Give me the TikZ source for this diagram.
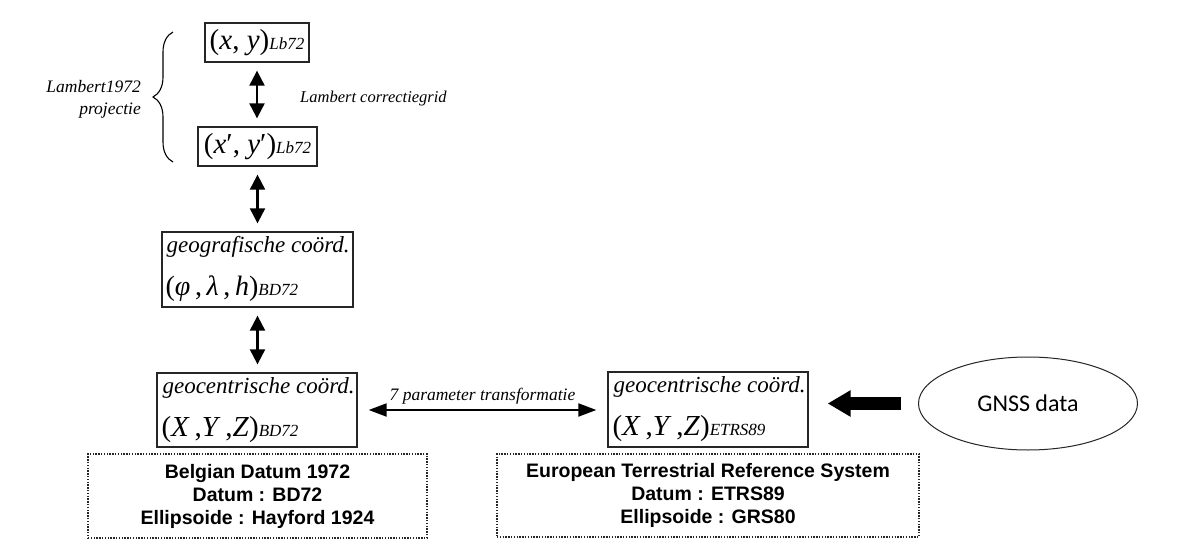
\documentclass[tikz,border=0pt]{standalone}
\usepackage{fontspec}
\setmainfont{Liberation Serif}
\setsansfont{Liberation Sans}
\newfontfamily\gnssfont{Carlito}
\usetikzlibrary{arrows.meta,decorations.pathreplacing,shapes.geometric,calc}

\newcommand\sz[1]{\fontsize{#1}{#1}\selectfont}
\newcommand\subsc[1]{{\sz{17}\itshape #1}}
\newcommand\apos{′}

\begin{document}
\begin{tikzpicture}[x=1pt,y=-1pt,
  coordbox/.style={draw=black!85, line width=1.3pt, inner sep=0pt},
  infobox/.style={draw=black!85, line width=1.4pt, dash pattern=on 1.4pt off 1.4pt,
    inner sep=0pt, minimum height=84pt, align=center,
    font=\sffamily\bfseries\fontsize{19.5}{23}\selectfont},
  txt/.style={inner sep=0pt},
  dblarrow/.style={{Triangle[length=15pt,width=15pt]}-{Triangle[length=15pt,width=15pt]},
    line width=2.1pt, shorten <=8pt, shorten >=8pt},
  paramarrow/.style={{Triangle[length=18pt,width=13pt]}-{Triangle[length=18pt,width=13pt]},
    line width=2pt, shorten <=11pt, shorten >=11pt},
  bigarrow/.style={-{Triangle[length=23pt,width=25pt]}, line width=13pt,
    shorten <=17pt, shorten >=19pt}
]
\useasboundingbox (0,0) rectangle (1183,548);
\fill[white] (0,0) rectangle (1183,548);

% Lambert coordinates
\node[coordbox, minimum width=104pt, minimum height=39pt] (lb) at (257,42.5)
  {\sz{29}(\textit{x}, \textit{y})\subsc{Lb72}};
\node[coordbox, minimum width=119pt, minimum height=39pt] (lbc) at (257.5,146.5)
  {\sz{29}(\textit{x}\apos, \textit{y}\apos)\subsc{Lb72}};

% geographic coordinates
\node[coordbox, minimum width=191pt, minimum height=75pt] (geo) at (257.5,269.5) {};
\node[txt, anchor=base west] (geoT) at ($(geo.north west)+(5,21)$)
  {\sz{23}\itshape geografische coörd.};
\node[txt, anchor=base west] (geoV) at ($(geo.north west)+(4,64)$)
  {\sz{28}(\textit{φ}\,,\,\textit{λ}\,,\,\textit{h})\subsc{BD72}};

% geocentric coordinates BD72
\node[coordbox, minimum width=200pt, minimum height=74pt] (geoc) at (257,410) {};
\node[txt, anchor=base west] (geocT) at ($(geoc.north west)+(6,21)$)
  {\sz{23}\itshape geocentrische coörd.};
\node[txt, anchor=base west] (geocV) at ($(geoc.north west)+(5,64)$)
  {\sz{29}(\textit{X}\,,\textit{Y}\,,\textit{Z})\subsc{BD72}};

% geocentric coordinates ETRS89
\node[coordbox, minimum width=200pt, minimum height=75pt] (etrs) at (708,409.5) {};
\node[txt, anchor=base west] (etrsT) at ($(etrs.north west)+(6,21)$)
  {\sz{23}\itshape geocentrische coörd.};
\node[txt, anchor=base west] (etrsV) at ($(etrs.north west)+(5,64)$)
  {\sz{29}(\textit{X}\,,\textit{Y}\,,\textit{Z})\subsc{ETRS89}};

% GNSS source
\node[draw=black!85, ellipse, line width=1pt, minimum width=219pt, minimum height=93pt,
  inner sep=0pt, font=\gnssfont\sz{24}] (gnss) at (1028,403.5) {GNSS data};

% datum descriptions
\node[infobox, minimum width=339pt] (bdinfo) at (257.5,496)
  {Belgian Datum 1972\\Datum : BD72\\Ellipsoide : Hayford 1924};
\node[infobox, minimum width=422pt, minimum height=83pt] (etrsinfo) at (708,495.5)
  {European Terrestrial Reference System\\Datum : ETRS89\\Ellipsoide : GRS80};

% projection brace and labels
\draw[decorate, decoration={brace, amplitude=20pt}, line width=1.1pt] (173,162) -- (173,32);
\node[txt, anchor=east, align=right, font=\itshape\fontsize{17.5}{22}\selectfont] (proj) at (141,99)
  {Lambert1972\\projectie};
\node[txt, anchor=base west, font=\itshape\sz{16.5}] (corr) at (300,103) {Lambert correctiegrid};

% transformations
\draw[dblarrow] (lb.south) -- (lb.south |- lbc.north);
\draw[dblarrow] (lbc.south) -- (lbc.south |- geo.north);
\draw[dblarrow] (geo.south) -- (geo.south |- geoc.north);
\draw[paramarrow] (geoc.east) -- (geoc.east -| etrs.west)
  node[txt, midway, anchor=base, yshift=10pt, font=\itshape\sz{17.5}] (param) {7 parameter transformatie};
\draw[bigarrow] (gnss.west) -- (gnss.west -| etrs.east);
\end{tikzpicture}
\end{document}
